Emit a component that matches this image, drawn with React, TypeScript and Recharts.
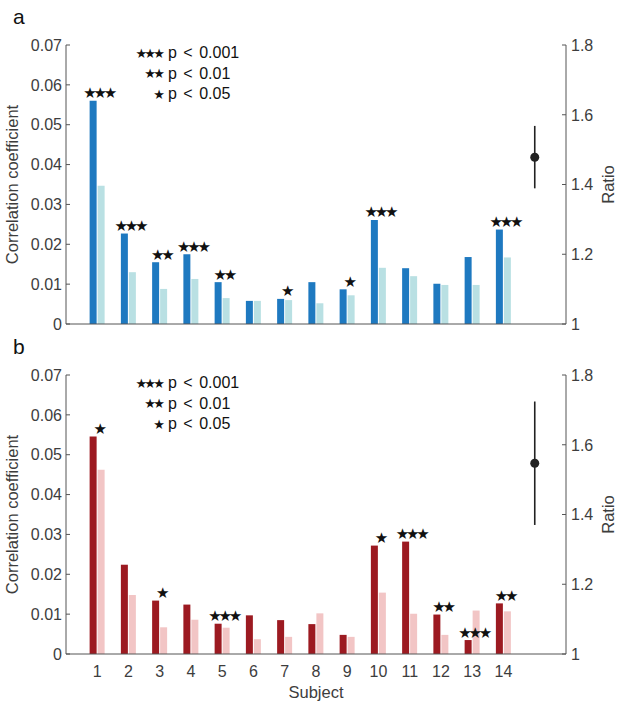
import React from 'react';
import { ComposedChart, Bar, Scatter, ErrorBar, XAxis, YAxis, LabelList } from 'recharts';

// subjects 1..14, slot 15 holds the ratio marker
const subjects = [1, 2, 3, 4, 5, 6, 7, 8, 9, 10, 11, 12, 13, 14, 15];

const darkA = [0.056, 0.0227, 0.0155, 0.0175, 0.0105, 0.0058, 0.0063, 0.0105, 0.0087, 0.0261, 0.014, 0.0101, 0.0168, 0.0237];
const lightA = [0.0347, 0.013, 0.0088, 0.0113, 0.0065, 0.0058, 0.006, 0.0052, 0.0072, 0.0141, 0.012, 0.0098, 0.0098, 0.0167];
const sigA = ['***', '***', '**', '***', '**', '', '*', '', '*', '***', '', '', '', '***'];
const ratioA = 1.478;
const ratioCiA = [1.389, 1.568];

const darkB = [0.0546, 0.0224, 0.0134, 0.0124, 0.0076, 0.0097, 0.0085, 0.0075, 0.0048, 0.0272, 0.0282, 0.0099, 0.0035, 0.0127];
const lightB = [0.0462, 0.0148, 0.0067, 0.0086, 0.0066, 0.0037, 0.0043, 0.0102, 0.0043, 0.0154, 0.0101, 0.0048, 0.0109, 0.0107];
const sigB = ['*', '', '*', '', '***', '', '', '', '', '*', '***', '**', '***', '**'];
const ratioB = 1.547;
const ratioCiB = [1.37, 1.724];

const corrTicks = [0, 0.01, 0.02, 0.03, 0.04, 0.05, 0.06, 0.07];
const ratioTicks = [1, 1.2, 1.4, 1.6, 1.8];
const legendRows = [
  ['***', 'p < 0.001'],
  ['**', 'p < 0.01'],
  ['*', 'p < 0.05'],
];

const FONT = '"Liberation Sans", Arial, Helvetica, sans-serif';
const STAR_FONT = '"DejaVu Sans", sans-serif';
const AXIS = '#555';
const TICK_TEXT = '#3d3d3d';

const toStars = (s: string) => s.replace(/\*/g, '\u2605');

function buildRows(dark: number[], light: number[], sig: string[], ratio: number, ci: number[]) {
  return subjects.map((s, i) => {
    if (i < dark.length) {
      return { subject: s, dark: dark[i], light: light[i], sig: sig[i], ratio: null, err: null };
    }
    return { subject: s, dark: null, light: null, sig: '', ratio, err: [ratio - ci[0], ci[1] - ratio] };
  });
}

const LeftTick = (props: any) => {
  const { x, y, payload } = props;
  const v = payload.value;
  return (
    <g>
      <line x1={x + 4} x2={x + 8} y1={y} y2={y} stroke={AXIS} strokeWidth={1} />
      <text x={x} y={y} dy="0.36em" textAnchor="end" fontFamily={FONT} fontSize={16} fill={TICK_TEXT}>
        {v === 0 ? '0' : v.toFixed(2)}
      </text>
    </g>
  );
};

const RightTick = (props: any) => {
  const { x, y, payload } = props;
  const v = payload.value;
  return (
    <g>
      <line x1={x - 5} x2={x - 9} y1={y} y2={y} stroke={AXIS} strokeWidth={1} />
      <text x={x} y={y} dy="0.36em" textAnchor="start" fontFamily={FONT} fontSize={16} fill={TICK_TEXT}>
        {v === 1 ? '1' : v.toFixed(1)}
      </text>
    </g>
  );
};

const StarLabel = (props: any) => {
  const { x, y, width, value } = props;
  if (!value) return null;
  return (
    <text
      x={x + width + 0.5 + 1.6}
      y={y - 2.5}
      textAnchor="middle"
      fontFamily={STAR_FONT}
      fontSize={15}
      letterSpacing={-3.2}
      fill="#111"
    >
      {toStars(String(value))}
    </text>
  );
};

const RatioDot = (props: any) => {
  const { cx, cy } = props;
  if (cx == null || cy == null || isNaN(cx) || isNaN(cy)) return null;
  return <circle cx={cx} cy={cy} r={4.5} fill="#222" />;
};

function Legend({ top }: { top: number }) {
  return (
    <>
      {legendRows.map(([stars, text], i) => (
        <div
          key={i}
          style={{
            position: 'absolute',
            left: 100,
            top: top + i * 20.5 - 10,
            height: 20,
            display: 'flex',
            alignItems: 'center',
            fontFamily: FONT,
            fontSize: 16,
            color: '#111',
            whiteSpace: 'pre',
          }}
        >
          <span
            style={{
              width: 62,
              textAlign: 'right',
              fontFamily: STAR_FONT,
              fontSize: 13,
              letterSpacing: -2.8,
            }}
          >
            {toStars(stars)}
          </span>
          <span style={{ marginLeft: 6, wordSpacing: 2 }}>{text}</span>
        </div>
      ))}
    </>
  );
}

function Panel({
  rows,
  darkColor,
  lightColor,
  height,
  top,
  showTicks,
}: {
  rows: any[];
  darkColor: string;
  lightColor: string;
  height: number;
  top: number;
  showTicks: boolean;
}) {
  const xHeight = height - top - 279;
  return (
    <ComposedChart
      width={617}
      height={height}
      data={rows}
      margin={{ top, right: 0, bottom: 0, left: 0 }}
      barSize={7}
      barGap={1}
    >
      <XAxis
        dataKey="subject"
        type="category"
        height={xHeight}
        padding={{ left: 15.625, right: 15.625 }}
        axisLine={{ stroke: AXIS, strokeWidth: 1 }}
        tickLine={false}
        tickSize={0}
        tickMargin={12}
        tick={showTicks ? { fontFamily: FONT, fontSize: 16, fill: TICK_TEXT } : false}
        tickFormatter={(v: number) => (v > 14 ? '' : String(v))}
        interval={0}
        label={
          showTicks
            ? { value: 'Subject', position: 'insideBottom', offset: 8, fontFamily: FONT, fontSize: 16.5, fill: TICK_TEXT }
            : undefined
        }
      />
      <YAxis
        yAxisId="left"
        orientation="left"
        width={66}
        domain={[0, 0.07]}
        ticks={corrTicks}
        allowDataOverflow
        axisLine={{ stroke: AXIS, strokeWidth: 1 }}
        tickLine={false}
        tickSize={0}
        tickMargin={4}
        tick={<LeftTick />}
        label={{
          value: 'Correlation coefficient',
          angle: -90,
          position: 'insideLeft',
          offset: 12,
          style: { textAnchor: 'middle', fontFamily: FONT, fontSize: 16.5, fill: TICK_TEXT },
        }}
      />
      <YAxis
        yAxisId="right"
        orientation="right"
        width={51}
        domain={[1, 1.8]}
        ticks={ratioTicks}
        allowDataOverflow
        axisLine={{ stroke: AXIS, strokeWidth: 1 }}
        tickLine={false}
        tickSize={0}
        tickMargin={5}
        tick={<RightTick />}
        label={{
          value: 'Ratio',
          angle: -90,
          position: 'insideRight',
          offset: 9,
          style: { textAnchor: 'middle', fontFamily: FONT, fontSize: 16.5, fill: TICK_TEXT },
        }}
      />
      <Bar yAxisId="left" dataKey="dark" fill={darkColor} isAnimationActive={false}>
        <LabelList dataKey="sig" content={<StarLabel />} />
      </Bar>
      <Bar yAxisId="left" dataKey="light" fill={lightColor} isAnimationActive={false} />
      <Scatter yAxisId="right" dataKey="ratio" shape={<RatioDot />} isAnimationActive={false}>
        <ErrorBar dataKey="err" direction="y" width={0} stroke="#222" strokeWidth={1.6} isAnimationActive={false} />
      </Scatter>
    </ComposedChart>
  );
}

const rowsA = buildRows(darkA, lightA, sigA, ratioA, ratioCiA);
const rowsB = buildRows(darkB, lightB, sigB, ratioB, ratioCiB);

export default function App() {
  return (
    <div style={{ position: 'absolute', left: 0, top: 0, width: 617, height: 706, background: '#fff' }}>
      <div style={{ position: 'absolute', left: 0, top: 0 }}>
        <Panel rows={rowsA} darkColor="#1e79c0" lightColor="#b9e0e3" height={340} top={45} showTicks={false} />
      </div>
      <div style={{ position: 'absolute', left: 0, top: 340 }}>
        <Panel rows={rowsB} darkColor="#9c1a21" lightColor="#f2c5c5" height={366} top={35} showTicks={true} />
      </div>
      <Legend top={53} />
      <Legend top={383} />
      <div style={{ position: 'absolute', left: 13, top: 5, fontFamily: FONT, fontSize: 21, color: '#111' }}>a</div>
      <div style={{ position: 'absolute', left: 13, top: 335, fontFamily: FONT, fontSize: 21, color: '#111' }}>b</div>
    </div>
  );
}
